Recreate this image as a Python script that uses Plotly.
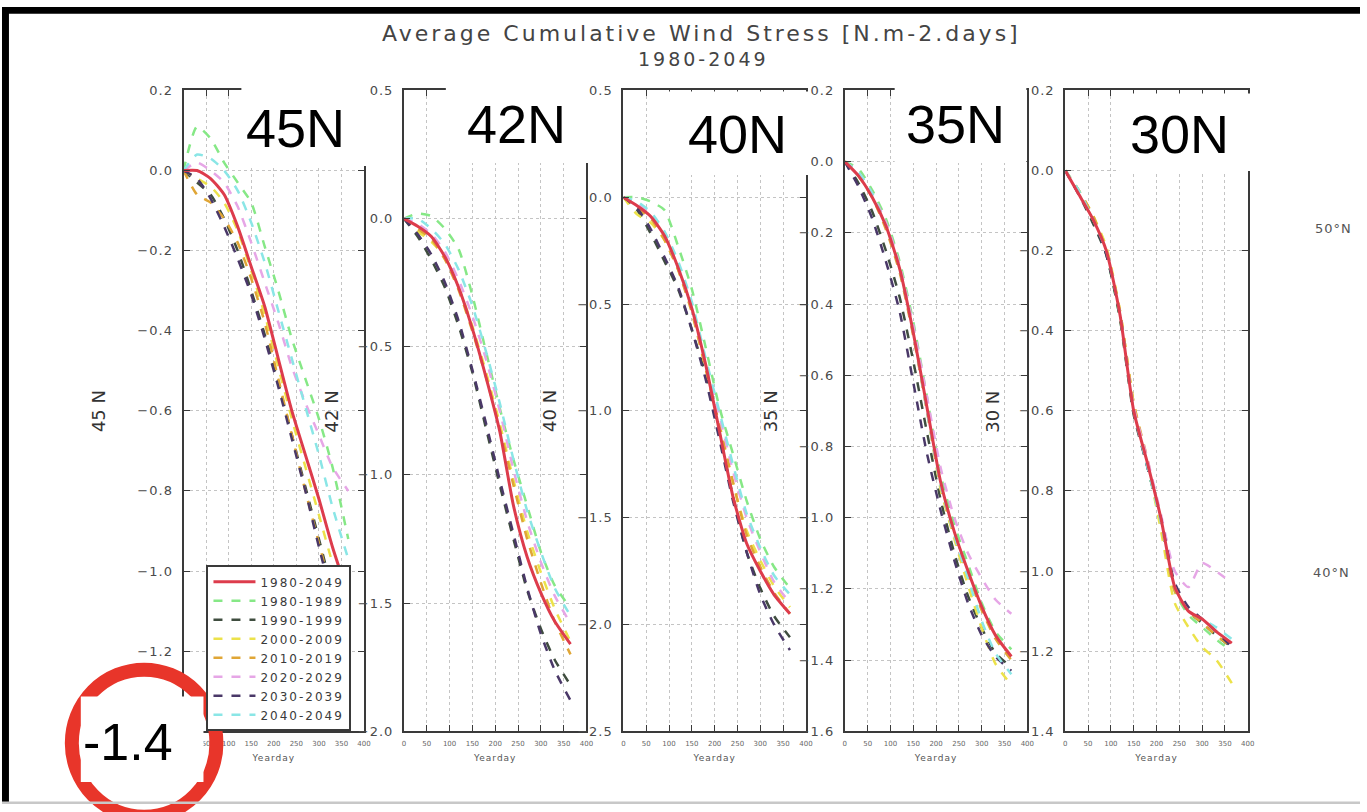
import plotly.graph_objects as go

# ---------------- data ----------------
DAYS = [0, 30, 60, 90, 120, 150, 180, 210, 240, 270, 300, 330, 365]
PERIODS = ["1980-2049", "1980-1989", "1990-1999", "2000-2009",
           "2010-2019", "2020-2029", "2030-2039", "2040-2049"]
PANEL_LABELS = ["45N", "42N", "40N", "35N", "30N"]
AXIS_TITLES = ["45 N", "42 N", "40 N", "35 N", "30 N"]
XTICKS = [0, 50, 100, 150, 200, 250, 300, 350, 400]

Y_TICKS_45 = [0.2, 0.0, -0.2, -0.4, -0.6, -0.8, -1.0, -1.2, -1.4]
Y_TICKS_42 = [0.5, 0.0, -0.5, -1.0, -1.5, -2.0]
Y_TICKS_40 = [0.5, 0.0, -0.5, -1.0, -1.5, -2.0, -2.5]
Y_TICKS_35 = [0.2, 0.0, -0.2, -0.4, -0.6, -0.8, -1.0, -1.2, -1.4, -1.6]
Y_TICKS_30 = [0.2, 0.0, -0.2, -0.4, -0.6, -0.8, -1.0, -1.2, -1.4]

N45 = {
    "1980-2049": [0, 0.00, -0.02, -0.06, -0.14, -0.24, -0.34, -0.47, -0.60, -0.71, -0.82, -0.94, -1.06],
    "1980-1989": [0, 0.11, 0.08, 0.02, -0.03, -0.08, -0.19, -0.30, -0.42, -0.52, -0.62, -0.74, -0.92],
    "1990-1999": [0, -0.03, -0.06, -0.12, -0.20, -0.30, -0.41, -0.53, -0.66, -0.79, -0.92, -1.05, -1.18],
    "2000-2009": [0, -0.02, -0.04, -0.08, -0.15, -0.25, -0.36, -0.49, -0.62, -0.74, -0.86, -0.98, -1.10],
    "2010-2019": [0, -0.06, -0.08, -0.12, -0.18, -0.27, -0.38, -0.52, -0.66, -0.80, -0.93, -1.06, -1.20],
    "2020-2029": [0, 0.02, 0.00, -0.03, -0.09, -0.18, -0.28, -0.38, -0.49, -0.58, -0.66, -0.74, -0.80],
    "2030-2039": [0, -0.02, -0.07, -0.14, -0.22, -0.31, -0.42, -0.54, -0.67, -0.80, -0.94, -1.07, -1.20],
    "2040-2049": [0, 0.04, 0.03, 0.00, -0.05, -0.13, -0.23, -0.35, -0.47, -0.59, -0.71, -0.84, -0.97],
}
N42 = {
    "1980-2049": [0, -0.03, -0.07, -0.15, -0.27, -0.43, -0.62, -0.83, -1.12, -1.32, -1.46, -1.57, -1.66],
    "1980-1989": [0, 0.02, 0.01, -0.04, -0.12, -0.30, -0.52, -0.74, -0.94, -1.12, -1.30, -1.43, -1.52],
    "1990-1999": [0, -0.07, -0.16, -0.27, -0.42, -0.60, -0.82, -1.04, -1.25, -1.45, -1.60, -1.72, -1.82],
    "2000-2009": [0, -0.05, -0.09, -0.15, -0.27, -0.42, -0.60, -0.80, -1.02, -1.22, -1.38, -1.52, -1.65],
    "2010-2019": [0, -0.04, -0.08, -0.16, -0.28, -0.44, -0.62, -0.82, -1.04, -1.25, -1.42, -1.57, -1.70],
    "2020-2029": [0, -0.02, -0.06, -0.13, -0.24, -0.38, -0.55, -0.75, -0.98, -1.18, -1.34, -1.47, -1.58],
    "2030-2039": [0, -0.06, -0.14, -0.25, -0.40, -0.59, -0.80, -1.02, -1.23, -1.44, -1.62, -1.76, -1.88],
    "2040-2049": [0, 0.00, -0.04, -0.10, -0.20, -0.34, -0.52, -0.72, -0.94, -1.14, -1.30, -1.44, -1.55],
}
N40 = {
    "1980-2049": [0, -0.04, -0.09, -0.18, -0.33, -0.52, -0.78, -1.09, -1.40, -1.62, -1.75, -1.86, -1.95],
    "1980-1989": [0, 0.00, -0.02, -0.06, -0.23, -0.43, -0.70, -0.98, -1.20, -1.42, -1.60, -1.73, -1.83],
    "1990-1999": [0, -0.06, -0.17, -0.30, -0.43, -0.62, -0.83, -1.10, -1.40, -1.66, -1.83, -1.96, -2.06],
    "2000-2009": [0, -0.08, -0.12, -0.20, -0.34, -0.53, -0.80, -1.07, -1.34, -1.56, -1.70, -1.82, -1.92],
    "2010-2019": [0, -0.05, -0.10, -0.20, -0.34, -0.54, -0.80, -1.06, -1.33, -1.58, -1.73, -1.85, -1.95],
    "2020-2029": [0, -0.03, -0.08, -0.18, -0.33, -0.52, -0.78, -1.02, -1.28, -1.50, -1.66, -1.80, -1.90],
    "2030-2039": [0, -0.05, -0.15, -0.28, -0.42, -0.62, -0.85, -1.13, -1.42, -1.66, -1.86, -2.00, -2.12],
    "2040-2049": [0, -0.02, -0.07, -0.16, -0.30, -0.49, -0.75, -1.00, -1.25, -1.48, -1.64, -1.77, -1.86],
}
N35 = {
    "1980-2049": [0, -0.04, -0.10, -0.18, -0.30, -0.48, -0.69, -0.90, -1.04, -1.15, -1.25, -1.33, -1.39],
    "1980-1989": [0, -0.02, -0.08, -0.16, -0.28, -0.45, -0.66, -0.88, -1.02, -1.13, -1.24, -1.32, -1.37],
    "1990-1999": [0, -0.06, -0.14, -0.25, -0.38, -0.56, -0.76, -0.95, -1.10, -1.22, -1.31, -1.38, -1.42],
    "2000-2009": [0, -0.04, -0.10, -0.18, -0.30, -0.48, -0.70, -0.92, -1.06, -1.19, -1.31, -1.41, -1.47],
    "2010-2019": [0, -0.04, -0.10, -0.19, -0.31, -0.49, -0.70, -0.91, -1.05, -1.16, -1.26, -1.34, -1.40],
    "2020-2029": [0, -0.03, -0.09, -0.17, -0.29, -0.46, -0.66, -0.86, -1.00, -1.10, -1.17, -1.23, -1.27],
    "2030-2039": [0, -0.07, -0.16, -0.28, -0.42, -0.62, -0.82, -0.98, -1.12, -1.24, -1.33, -1.39, -1.43],
    "2040-2049": [0, -0.03, -0.09, -0.18, -0.30, -0.48, -0.70, -0.91, -1.05, -1.17, -1.29, -1.38, -1.44],
}
N30 = {
    "1980-2049": [0, -0.06, -0.12, -0.20, -0.36, -0.60, -0.73, -0.87, -1.04, -1.10, -1.12, -1.15, -1.18],
    "1980-1989": [0, -0.05, -0.12, -0.21, -0.37, -0.60, -0.74, -0.88, -1.05, -1.11, -1.14, -1.17, -1.20],
    "1990-1999": [0, -0.06, -0.13, -0.21, -0.37, -0.61, -0.74, -0.88, -1.04, -1.10, -1.13, -1.16, -1.19],
    "2000-2009": [0, -0.05, -0.11, -0.19, -0.35, -0.58, -0.73, -0.90, -1.08, -1.14, -1.19, -1.22, -1.28],
    "2010-2019": [0, -0.05, -0.11, -0.20, -0.35, -0.58, -0.72, -0.88, -1.05, -1.10, -1.13, -1.16, -1.19],
    "2020-2029": [0, -0.06, -0.12, -0.20, -0.36, -0.59, -0.72, -0.86, -1.00, -1.04, -0.98, -1.00, -1.03],
    "2030-2039": [0, -0.06, -0.12, -0.21, -0.36, -0.60, -0.74, -0.87, -1.03, -1.09, -1.12, -1.15, -1.19],
    "2040-2049": [0, -0.05, -0.12, -0.20, -0.36, -0.60, -0.74, -0.88, -1.04, -1.10, -1.12, -1.14, -1.17],
}

PANELS = [N45, N42, N40, N35, N30]
Y_TICKS = [Y_TICKS_45, Y_TICKS_42, Y_TICKS_40, Y_TICKS_35, Y_TICKS_30]

# ---------------- styles ----------------
W, H = 1367, 812
COLORS = {
    "1980-2049": "#dd3c4c", "1980-1989": "#86e886", "1990-1999": "#3f4d3f",
    "2000-2009": "#ece24a", "2010-2019": "#e0a636", "2020-2029": "#e6a6e6",
    "2030-2039": "#4a3868", "2040-2049": "#8ae6e6",
}
PANEL_X = [(182, 363), (403, 586), (623, 806), (845, 1028), (1066, 1249)]
PLOT_TOP, PLOT_BOTTOM = 87, 732
MPL_FONT = "DejaVu Sans"
OVL_FONT = "Liberation Sans"
SX, SY, OY = 0.996, 0.988, 3.0   # small calibration of target pixel positions


def fx(x):
    return (x / SX) / W


def fy(y):
    return 1 - ((y - OY) / SY) / H


def spaced(text, px):
    return f'<span style="letter-spacing:{px}px">{text}</span>'


def fmt(v):
    return spaced(f"{v:.1f}".replace("-", "\u2212"), 1)


fig = go.Figure()

for i, panel in enumerate(PANELS):
    xa = "x" if i == 0 else f"x{i+1}"
    ya = "y" if i == 0 else f"y{i+1}"
    order = PERIODS[1:] + PERIODS[:1]
    for p in order:
        solid = p == "1980-2049"
        fig.add_trace(go.Scatter(
            x=DAYS, y=panel[p], mode="lines", name=spaced(p, 2),
            xaxis=xa, yaxis=ya,
            line=dict(color=COLORS[p], width=3 if solid else 2.5,
                      dash="solid" if solid else "dash", shape="spline", smoothing=0.6),
            showlegend=(i == 0), legendrank=PERIODS.index(p) + 1,
        ))
    x0, x1 = PANEL_X[i]
    yt = Y_TICKS[i]
    ttext = [fmt(v) for v in yt]
    if i == 0:
        ttext[-1] = ""  # hidden under the overlaid "-1.4" box in the reference
    axcommon = dict(showline=True, linecolor="#3a3a3a", linewidth=2, mirror="ticks",
                    ticks="inside", ticklen=6, tickcolor="#3a3a3a", tickwidth=1,
                    showgrid=True, gridcolor="#c4c4c4", griddash="dot", gridwidth=1,
                    zeroline=False)
    fig.update_layout({
        ("xaxis" if i == 0 else f"xaxis{i+1}"): dict(
            domain=[fx(x0), fx(x1)], anchor=ya, range=[0, 400],
            tickvals=XTICKS, ticktext=[str(t) for t in XTICKS], ticklabelstandoff=4,
            tickfont=dict(family=MPL_FONT, size=7, color="#666"),
            title=dict(text=spaced("Yearday", 1), font=dict(family=MPL_FONT, size=9, color="#555"),
                       standoff=8),
            **axcommon),
        ("yaxis" if i == 0 else f"yaxis{i+1}"): dict(
            domain=[fy(PLOT_BOTTOM), fy(PLOT_TOP)], anchor=xa, range=[yt[-1], yt[0]],
            tickvals=yt, ticktext=ttext, ticklabelstandoff=6,
            tickfont=dict(family=MPL_FONT, size=13, color="#4a4a4a"),
            **axcommon),
    })

shapes = []
annotations = []


def note(text, x, y, size, color="#444", family=MPL_FONT, xanchor="center", angle=0):
    annotations.append(dict(text=text, x=fx(x), y=fy(y), xref="paper", yref="paper",
                            xanchor=xanchor, yanchor="middle", showarrow=False,
                            textangle=angle, font=dict(family=family, size=size, color=color)))


# titles
note(spaced("Average Cumulative Wind Stress [N.m-2.days]", 3), 701, 30, 22)
note(spaced("1980-2049", 3), 703, 55, 19)

# rotated y titles
YT_X = [97, 330, 549, 770, 993]
for i, t in enumerate(AXIS_TITLES):
    note(t, YT_X[i], 410, 18, color="#333", angle=-90)

# overlay label boxes
BOXES = [(240, 77, 365, 163), (445, 75, 588, 160), (668, 88, 810, 172),
         (895, 78, 1027, 160), (1120, 90, 1255, 168)]
TEXT_X = [243, 464, 686, 904, 1129]
TEXT_Y = [125, 121, 131, 121, 131]
for (bx0, by0, bx1, by1), lab, tx, ty in zip(BOXES, PANEL_LABELS, TEXT_X, TEXT_Y):
    shapes.append(dict(type="rect", xref="paper", yref="paper", x0=fx(bx0), x1=fx(bx1),
                       y0=fy(by1), y1=fy(by0), fillcolor="white", line=dict(width=0), layer="above"))
    note(lab, tx, ty, 54, color="black", family=OVL_FONT, xanchor="left")

# red circle and -1.4 box
shapes.append(dict(type="circle", xref="paper", yref="paper", x0=fx(70), x1=fx(215),
                   y0=fy(818), y1=fy(670), line=dict(color="#e8352a", width=14), layer="above"))
shapes.append(dict(type="rect", xref="paper", yref="paper", x0=fx(79), x1=fx(202),
                   y0=fy(783), y1=fy(697), fillcolor="white", line=dict(width=0), layer="above"))
note("-1.4", 79, 743, 52, color="black", family=OVL_FONT, xanchor="left")

# right side labels
note(spaced("50°N", 1), 1314, 226, 13, color="#555", xanchor="left")
note(spaced("40°N", 1), 1312, 572, 13, color="#555", xanchor="left")

# frame bars
shapes.append(dict(type="rect", xref="paper", yref="paper", x0=0, x1=1, y0=1 - 7 / H, y1=1,
                   fillcolor="black", line=dict(width=0), layer="above"))
shapes.append(dict(type="rect", xref="paper", yref="paper", x0=0, x1=7 / W, y0=0, y1=1,
                   fillcolor="black", line=dict(width=0), layer="above"))
shapes.append(dict(type="rect", xref="paper", yref="paper", x0=0, x1=1, y0=0, y1=2.5 / H,
                   fillcolor="#c8c8c8", line=dict(width=0), layer="above"))

fig.update_layout(
    width=W, height=H, margin=dict(l=0, r=0, t=0, b=0),
    paper_bgcolor="white", plot_bgcolor="white",
    shapes=shapes, annotations=annotations,
    legend=dict(x=fx(205), y=fy(565), xanchor="left", yanchor="top",
                bgcolor="white", bordercolor="#3a3a3a", borderwidth=2,
                font=dict(family=MPL_FONT, size=12, color="#3a3a3a"),
                tracegroupgap=0, itemwidth=42),
)

fig.write_html("out.html")
